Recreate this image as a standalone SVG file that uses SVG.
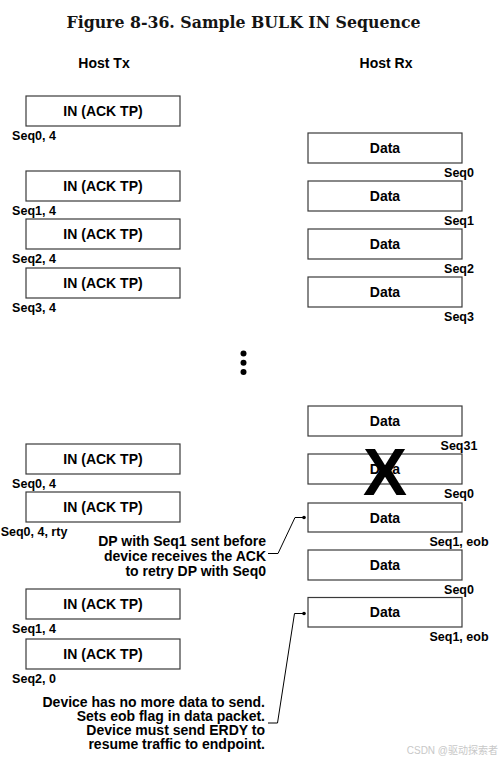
<svg xmlns="http://www.w3.org/2000/svg" width="503" height="762" viewBox="0 0 503 762">
<style>
.bx{fill:#fff;stroke:#3a3a3a;stroke-width:1.2}
.t{font-family:"Liberation Sans",Arial,sans-serif;font-weight:bold;fill:#000}
.lbl{font-size:14px;text-anchor:middle}
.seq{font-size:12.5px;text-anchor:middle}
.ann{font-size:14px;text-anchor:end}
.cn{fill:none;stroke:#000;stroke-width:1}
</style>
<rect width="503" height="762" fill="#fff"/>
<text x="243.5" y="28" font-family="'DejaVu Serif','Liberation Serif',serif" font-weight="bold" font-size="16" fill="#141414" text-anchor="middle" textLength="354" lengthAdjust="spacingAndGlyphs">Figure 8-36.  Sample BULK IN Sequence</text>
<text class="t lbl" x="104" y="68">Host Tx</text>
<text class="t lbl" x="386" y="68">Host Rx</text>

<g id="in1"><rect class="bx" x="26" y="96" width="154" height="30"/><text class="t lbl" x="103" y="116">IN (ACK TP)</text><text class="t seq" x="34" y="139.5">Seq0, 4</text></g>
<g id="in2"><rect class="bx" x="26" y="171" width="154" height="30"/><text class="t lbl" x="103" y="191">IN (ACK TP)</text><text class="t seq" x="34" y="214.5">Seq1, 4</text></g>
<g id="in3"><rect class="bx" x="26" y="219" width="154" height="30"/><text class="t lbl" x="103" y="239">IN (ACK TP)</text><text class="t seq" x="34" y="262.5">Seq2, 4</text></g>
<g id="in4"><rect class="bx" x="26" y="268" width="154" height="30"/><text class="t lbl" x="103" y="288">IN (ACK TP)</text><text class="t seq" x="34" y="311.5">Seq3, 4</text></g>
<g id="in5"><rect class="bx" x="26" y="444" width="154" height="30"/><text class="t lbl" x="103" y="464">IN (ACK TP)</text><text class="t seq" x="34" y="487.5">Seq0, 4</text></g>
<g id="in6"><rect class="bx" x="26" y="492" width="154" height="30"/><text class="t lbl" x="103" y="512">IN (ACK TP)</text><text class="t seq" x="34" y="535.5">Seq0, 4, rty</text></g>
<g id="in7"><rect class="bx" x="26" y="589" width="154" height="30"/><text class="t lbl" x="103" y="609">IN (ACK TP)</text><text class="t seq" x="34" y="633">Seq1, 4</text></g>
<g id="in8"><rect class="bx" x="26" y="639" width="154" height="30"/><text class="t lbl" x="103" y="659">IN (ACK TP)</text><text class="t seq" x="34" y="682.5">Seq2, 0</text></g>

<g id="d1"><rect class="bx" x="308" y="133" width="154" height="30"/><text class="t lbl" x="385" y="153">Data</text><text class="t seq" x="459" y="176.5">Seq0</text></g>
<g id="d2"><rect class="bx" x="308" y="181" width="154" height="30"/><text class="t lbl" x="385" y="201">Data</text><text class="t seq" x="459" y="224.5">Seq1</text></g>
<g id="d3"><rect class="bx" x="308" y="229" width="154" height="30"/><text class="t lbl" x="385" y="249">Data</text><text class="t seq" x="459" y="272.5">Seq2</text></g>
<g id="d4"><rect class="bx" x="308" y="277" width="154" height="30"/><text class="t lbl" x="385" y="297">Data</text><text class="t seq" x="459" y="320.5">Seq3</text></g>
<g id="d5"><rect class="bx" x="308" y="406" width="154" height="30"/><text class="t lbl" x="385" y="426">Data</text><text class="t seq" x="459" y="449.5">Seq31</text></g>
<g id="d6"><rect class="bx" x="308" y="454" width="154" height="30"/><text class="t lbl" x="385" y="474">Data</text><text class="t seq" x="459" y="497.5">Seq0</text><text class="t" x="385" y="495" font-size="66" text-anchor="middle">X</text></g>
<g id="d7"><rect class="bx" x="308" y="503" width="154" height="29"/><text class="t lbl" x="385" y="522.5">Data</text><text class="t seq" x="459" y="546">Seq1, eob</text></g>
<g id="d8"><rect class="bx" x="308" y="550" width="154" height="30"/><text class="t lbl" x="385" y="570">Data</text><text class="t seq" x="459" y="593.5">Seq0</text></g>
<g id="d9"><rect class="bx" x="308" y="597.5" width="154" height="29.5"/><text class="t lbl" x="385" y="617">Data</text><text class="t seq" x="459" y="640.5">Seq1, eob</text></g>

<g id="dots" fill="#000"><circle cx="243.5" cy="353.5" r="3"/><circle cx="243.5" cy="362.7" r="3"/><circle cx="243.5" cy="372" r="3"/></g>

<g id="note1"><text class="t ann" x="266" y="546">DP with Seq1 sent before</text><text class="t ann" x="266" y="561">device receives the ACK</text><text class="t ann" x="266" y="576">to retry DP with Seq0</text></g>
<g id="note2"><text class="t ann" x="265" y="707">Device has no more data to send.</text><text class="t ann" x="265" y="721">Sets eob flag in data packet.</text><text class="t ann" x="265" y="735">Device must send ERDY to</text><text class="t ann" x="265" y="749">resume traffic to endpoint.</text></g>

<g id="connectors">
<polyline class="cn" points="268,553.5 278,553.5 295,517.5 304,517.5"/>
<circle cx="304" cy="517.5" r="1.8" fill="#000"/>
<polyline class="cn" points="268,723 277.5,723 294.5,613.5 304,613.5"/>
<circle cx="304" cy="613.5" r="1.8" fill="#000"/>
</g>

<text x="498" y="754" font-family="'Liberation Sans','Noto Sans CJK SC',sans-serif" font-size="10" fill="#c8c8c8" text-anchor="end">CSDN @驱动探索者</text>
</svg>
